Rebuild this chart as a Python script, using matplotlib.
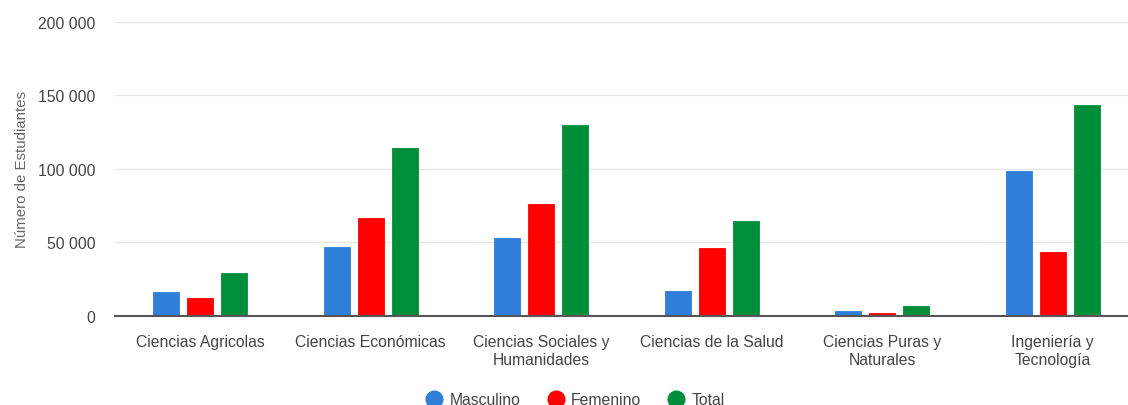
import matplotlib.pyplot as plt
import numpy as np
from matplotlib.lines import Line2D

plt.rcParams['font.family'] = ['Liberation Sans', 'DejaVu Sans']

# datos
categorias = ["Ciencias Agricolas", "Ciencias Económicas", "Ciencias Sociales y\nHumanidades",
              "Ciencias de la Salud", "Ciencias Puras y\nNaturales", "Ingeniería y\nTecnología"]
masculino = [15900, 47000, 52600, 17000, 3200, 98600]
femenino = [12000, 66700, 76200, 46300, 1600, 43500]
total = [28800, 114300, 129500, 64400, 6400, 143300]
series = ["Masculino", "Femenino", "Total"]
colores = ["#2F7ED8", "#FF0000", "#008E3A"]

fig = plt.figure(figsize=(11.28, 4.06), dpi=100)
ax = fig.add_axes([115 / 1128, 1 - 316.7 / 406, 1023 / 1128, 294 / 406])

x = np.arange(len(categorias))
ancho = 0.152
for i, (vals, col) in enumerate(zip([masculino, femenino, total], colores)):
    ax.bar(x + (i - 1) * 0.2, vals, ancho, color=col, edgecolor=col,
           linewidth=0.6, joinstyle='round', zorder=3)

ax.set_xlim(-0.5, 5.5)
ax.set_ylim(0, 200000)
ax.set_yticks([0, 50000, 100000, 150000, 200000])
ax.set_yticklabels(["0", "50 000", "100 000", "150 000", "200 000"])
ax.set_xticks(x)
ax.set_xticklabels(categorias, linespacing=1.25)
ax.tick_params(axis='both', length=0, labelsize=11.3, labelcolor="#444444")
ax.tick_params(axis='y', pad=14)
ax.tick_params(axis='x', pad=13)
ax.grid(axis='y', color="#e6e6e6", linewidth=1, zorder=0)
for s in ["top", "right", "left"]:
    ax.spines[s].set_visible(False)
ax.spines["bottom"].set_color("#555555")
ax.spines["bottom"].set_linewidth(1.5)
ax.spines["bottom"].set_zorder(4)

ax.set_ylabel("Número de Estudiantes", fontsize=10.8, color="#666666")
ax.yaxis.set_label_coords(-86 / 1023, 0.5)

manejadores = [Line2D([], [], marker='o', linestyle='none', markersize=12,
                      markerfacecolor=c, markeredgecolor=c) for c in colores]
fig.legend(manejadores, series, loc='center', bbox_to_anchor=(575 / 1128, 1 - 401 / 406),
           ncol=3, frameon=False, fontsize=11.3, labelcolor="#444444",
           handlelength=1.2, handletextpad=0.4, columnspacing=1.6)

fig.savefig("out.png", dpi=100)
